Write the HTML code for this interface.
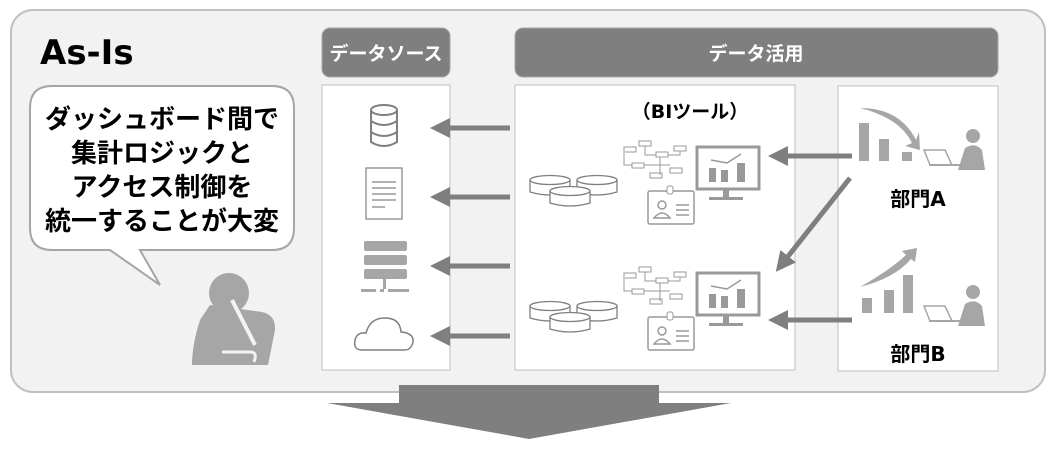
<!DOCTYPE html>
<html><head><meta charset="utf-8"><style>
body{margin:0;background:#fff;width:1060px;height:449px;overflow:hidden;font-family:"Liberation Sans","Noto Sans CJK JP",sans-serif}
</style></head><body>
<svg width="1060" height="449" viewBox="0 0 1060 449" xmlns="http://www.w3.org/2000/svg" font-family="'DejaVu Sans','Noto Sans CJK JP',sans-serif">
<defs><marker id="ah" markerWidth="4" markerHeight="4" refX="2" refY="2" orient="auto" markerUnits="strokeWidth"><path d="M0,0 L4,2 L0,4 Z" fill="#7f7f7f"/></marker></defs>
<rect x="11" y="10" width="1034" height="382" rx="22" fill="#f2f2f2" stroke="#bfbfbf" stroke-width="2"/>
<text x="40" y="64" font-size="34" font-weight="bold" fill="#000">As-Is</text>
<rect x="322" y="28" width="128" height="49" rx="8" fill="#7f7f7f" stroke="#a6a6a6"/>
<text x="386" y="60" font-size="19" font-weight="bold" fill="#fff" text-anchor="middle">データソース</text>
<rect x="515" y="28" width="483" height="49" rx="8" fill="#7f7f7f" stroke="#a6a6a6"/>
<text x="756" y="60" font-size="19" font-weight="bold" fill="#fff" text-anchor="middle">データ活用</text>
<rect x="322" y="85" width="128" height="285" fill="#fff" stroke="#bfbfbf"/>
<rect x="515" y="85" width="280" height="285" fill="#fff" stroke="#bfbfbf"/>
<rect x="838" y="86" width="160" height="285" fill="#fff" stroke="#bfbfbf"/>
<path d="M52,86 H272 Q294,86 294,108 V228 Q294,250 272,250 H140 L160,285 L110,250 H52 Q30,250 30,228 V108 Q30,86 52,86 Z" fill="#fff" stroke="#a6a6a6" stroke-width="2"/>
<g font-size="26" font-weight="bold" fill="#000" text-anchor="middle">
<text x="162" y="128">ダッシュボード間で</text>
<text x="162" y="162">集計ロジックと</text>
<text x="162" y="196">アクセス制御を</text>
<text x="162" y="230">統一することが大変</text>
</g>
<circle cx="229" cy="293" r="20" fill="#a6a6a6"/>
<path d="M210,305 L262,312 Q276,315 275,330 L268,365 L192,365 Q192,345 200,320 Z" fill="#a6a6a6"/>
<path d="M232,300 L255,345" stroke="#f2f2f2" stroke-width="4" fill="none"/>
<path d="M222,352 H250 Q258,352 254,362" stroke="#f2f2f2" stroke-width="3" fill="none"/>
<g fill="none" stroke="#7f7f7f" stroke-width="2">
<ellipse cx="384" cy="110" rx="13" ry="5"/>
<path d="M371,110 V142 Q384,150 397,142 V110 M371,121 Q384,129 397,121 M371,132 Q384,140 397,132"/>
</g>
<g fill="#fff" stroke="#808080" stroke-width="1.2"><rect x="366" y="168" width="36" height="51"/></g>
<g stroke="#999" stroke-width="1.5"><line x1="372" y1="182" x2="396" y2="182"/><line x1="372" y1="188" x2="396" y2="188"/><line x1="372" y1="194" x2="396" y2="194"/><line x1="372" y1="200" x2="396" y2="200"/><line x1="372" y1="207" x2="385" y2="207"/></g>
<g fill="#a6a6a6"><rect x="364" y="241" width="43" height="10" rx="2"/><rect x="364" y="255" width="43" height="10" rx="2"/><rect x="364" y="269" width="43" height="10" rx="2"/><rect x="361" y="289" width="15" height="3"/><rect x="380" y="289" width="4" height="3"/><rect x="388" y="289" width="21" height="3"/><rect x="383" y="279" width="3" height="10"/></g>
<path d="M362,350 Q353,350 355,340 Q357,332 366,333 Q370,318 385,318 Q400,318 401,332 Q414,333 413,342 Q411,350 405,350 Z" fill="#fff" stroke="#7f7f7f" stroke-width="1.5"/>
<g stroke="#7f7f7f" stroke-width="5" marker-end="url(#ah)">
<line x1="510" y1="128" x2="440" y2="128"/>
<line x1="510" y1="197" x2="440" y2="197"/>
<line x1="510" y1="266" x2="440" y2="266"/>
<line x1="510" y1="336" x2="440" y2="336"/>
<line x1="852" y1="156" x2="778" y2="156"/>
<line x1="852" y1="320" x2="778" y2="320"/>
<line x1="850" y1="178" x2="782" y2="264"/>
</g>
<text x="690" y="118" font-size="19" font-weight="bold" text-anchor="middle">（BIツール）</text>
<g id="bi">
<g fill="#fff" stroke="#7f7f7f" stroke-width="1.3">
<path d="M530,180 V192 Q550,198 570,192 V180"/><ellipse cx="550" cy="180" rx="20" ry="4.5"/>
<path d="M577,180 V192 Q597,198 617,192 V180"/><ellipse cx="597" cy="180" rx="20" ry="4.5"/>
<path d="M550,191 V203 Q570,209 590,203 V191"/><ellipse cx="570" cy="191" rx="20" ry="4.5"/>
</g>
<g fill="#fff" stroke="#999" stroke-width="1">
<rect x="639" y="141" width="12" height="5"/><rect x="624" y="147" width="12" height="5"/><rect x="674" y="146" width="12" height="5"/><rect x="656" y="152" width="12" height="5"/><rect x="632" y="163" width="12" height="5"/><rect x="670" y="168" width="12" height="5"/><rect x="650" y="173" width="12" height="5"/>
<path d="M624,150 V165 H632 M645,146 V155 H656 M668,155 H680 V151 M660,157 V175 M644,165 H670"/>
</g>
<rect x="697" y="147" width="62" height="42" fill="#fff" stroke="#999" stroke-width="3"/>
<rect x="723" y="189" width="6" height="8" fill="#999"/><rect x="709" y="197" width="34" height="3" fill="#999"/>
<g fill="#999"><rect x="709" y="168" width="7" height="14"/><rect x="721" y="170" width="7" height="12"/><rect x="737" y="163" width="8" height="19"/></g>
<path d="M711,160 L727,163 L741,154" stroke="#999" stroke-width="1.5" fill="none"/>
<rect x="648" y="191" width="46" height="33" rx="2" fill="#fff" stroke="#999" stroke-width="1.5"/>
<rect x="667" y="186" width="6" height="8" rx="2" fill="#fff" stroke="#999"/>
<circle cx="662" cy="205" r="4" fill="none" stroke="#999" stroke-width="1.5"/>
<path d="M654,218 Q662,208 670,218 Z" fill="none" stroke="#999" stroke-width="1.5"/>
<g stroke="#999" stroke-width="1.5"><line x1="676" y1="205" x2="689" y2="205"/><line x1="676" y1="210" x2="689" y2="210"/><line x1="676" y1="215" x2="689" y2="215"/></g>
</g>
<use href="#bi" transform="translate(0,126)"/>
<g fill="#a6a6a6">
<rect x="859" y="123" width="10" height="38"/><rect x="879" y="139" width="10" height="22"/><rect x="902" y="152" width="10" height="9"/>
<path d="M860,108 Q900,108 916,140 L919,132 L920,150 L905,146 L912,143 Q900,118 860,108 Z"/>
<circle cx="973" cy="136" r="7"/><path d="M958,170 L965,148 Q975,142 982,150 L985,170 Z"/>
<path d="M924,150 L945,150 L952,165 L930,165 Z" fill="#fff" stroke="#a6a6a6" stroke-width="1.5"/><rect x="929" y="164" width="33" height="2"/>
</g>
<text x="918" y="206" font-size="20" font-weight="bold" text-anchor="middle">部門A</text>
<g fill="#a6a6a6">
<rect x="862" y="298" width="10" height="15"/><rect x="884" y="290" width="10" height="23"/><rect x="903" y="275" width="10" height="38"/>
<path d="M860,287 Q890,270 906,255 L902,251 L917,248 L915,262 L911,259 Q895,278 860,287 Z"/>
<circle cx="973" cy="292" r="7"/><path d="M958,326 L965,304 Q975,298 982,306 L985,326 Z"/>
<path d="M924,306 L945,306 L952,321 L930,321 Z" fill="#fff" stroke="#a6a6a6" stroke-width="1.5"/><rect x="929" y="320" width="33" height="2"/>
</g>
<text x="918" y="361" font-size="20" font-weight="bold" text-anchor="middle">部門B</text>
<path d="M399,385 H659 V403 H731 L529,439 L327,403 H399 Z" fill="#7f7f7f"/>
</svg>
</body></html>
